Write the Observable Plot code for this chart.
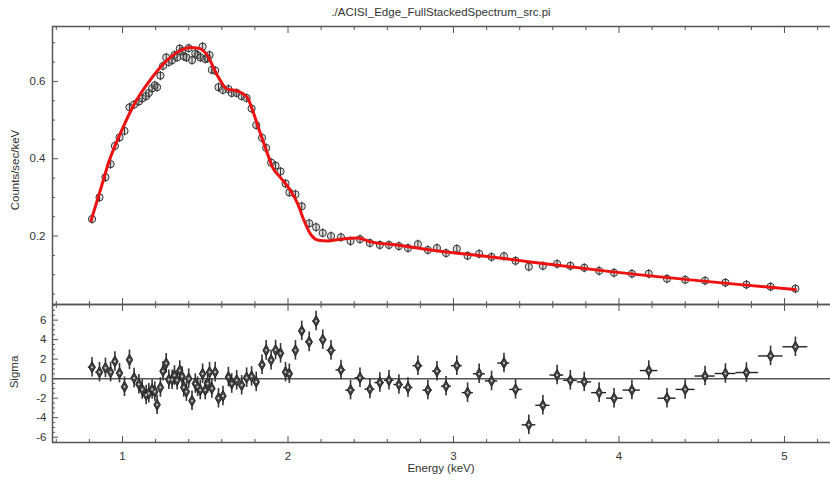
<!DOCTYPE html>
<html><head><meta charset="utf-8">
<script src="https://cdn.jsdelivr.net/npm/d3@7"></script>
<script src="https://cdn.jsdelivr.net/npm/@observablehq/plot@0.6"></script>
<style>
html,body{margin:0;padding:0;background:#fff;}
#wrap{position:relative;width:830px;height:480px;font-family:"Liberation Sans",Arial,sans-serif;color:#333;overflow:hidden;}
.lbl{position:absolute;font-size:11.5px;white-space:nowrap;color:#333;}
#wrap svg{position:absolute;left:0;background:transparent !important;}
</style>
</head><body>
<div id="wrap">
  <div class="lbl" id="title" style="left:441px;top:6px;transform:translateX(-50%);">./ACISI_Edge_FullStackedSpectrum_src.pi</div>
  <div class="lbl" style="left:15px;top:170px;transform:translate(-50%,-50%) rotate(-90deg);">Counts/sec/keV</div>
  <div class="lbl" style="left:14px;top:372px;transform:translate(-50%,-50%) rotate(-90deg);">Sigma</div>
  <div class="lbl" style="left:441px;top:468px;transform:translate(-50%,-50%);">Energy (keV)</div>
</div>
<script>
// ---- data ----
const energy = [
  0.816,0.861,0.897,0.928,0.954,0.982,1.012,1.042,1.070,1.099,
  1.119,1.143,1.159,1.179,1.195,1.209,1.229,1.245,1.264,1.280,
  1.300,1.314,1.330,1.346,1.360,1.370,1.386,1.400,1.420,1.440,
  1.454,1.470,1.484,1.500,1.514,1.526,1.540,1.560,1.580,1.607,
  1.640,1.660,1.690,1.720,1.750,1.780,1.808,1.843,1.868,1.898,
  1.925,1.955,1.985,2.008,2.045,2.083,2.128,2.170,2.210,2.260,
  2.320,2.378,2.435,2.495,2.555,2.610,2.670,2.725,2.785,2.845,
  2.900,2.955,3.020,3.085,3.155,3.230,3.305,3.375,3.455,3.540,
  3.626,3.706,3.790,3.880,3.970,4.078,4.180,4.290,4.400,4.520,
  4.643,4.770,4.916,5.066
];
const counts = [
  0.244,0.300,0.352,0.386,0.433,0.455,0.472,0.533,0.540,0.548,
  0.556,0.562,0.570,0.582,0.590,0.585,0.615,0.640,0.662,0.650,
  0.655,0.668,0.662,0.685,0.678,0.665,0.662,0.686,0.655,0.672,
  0.668,0.662,0.690,0.658,0.660,0.668,0.630,0.628,0.585,0.578,
  0.580,0.570,0.570,0.562,0.557,0.530,0.487,0.454,0.428,0.390,
  0.382,0.367,0.336,0.313,0.308,0.277,0.233,0.223,0.208,0.200,
  0.197,0.187,0.192,0.182,0.177,0.177,0.174,0.169,0.179,0.164,
  0.169,0.156,0.167,0.149,0.154,0.146,0.148,0.136,0.1205,0.123,
  0.128,0.123,0.118,0.110,0.105,0.1026,0.1026,0.0897,0.087,0.0846,
  0.0795,0.0744,0.069,0.064
];
const sigma = [
  1.17,0.67,1.10,0.67,1.77,0.57,-0.83,1.93,0.07,-0.57,
  -1.10,-1.67,-1.50,-1.10,-1.33,-2.67,-0.90,0.77,1.57,-0.10,
  -0.10,0.33,-0.17,0.83,0.23,-0.90,-1.33,0.00,-2.27,-0.50,
  -0.83,-1.17,0.50,-1.17,-0.50,0.67,-1.00,0.67,-2.00,-1.77,
  0.17,-0.50,-0.17,-0.67,0.10,0.23,-0.33,1.43,2.90,1.90,
  2.93,2.60,0.67,0.50,2.90,4.90,3.77,5.90,4.00,2.90,
  0.90,-1.17,0.10,-1.07,-0.40,-0.17,-0.60,-0.90,1.33,-1.17,
  0.77,-0.77,1.33,-1.43,0.50,-0.23,1.60,-1.10,-4.73,-2.73,
  0.37,-0.17,-0.33,-1.43,-2.00,-1.17,0.83,-2.00,-1.10,0.27,
  0.53,0.63,2.33,3.27
];
const modelE = [0.81,0.86,0.92,1.0,1.066,1.17,1.27,1.35,1.41,1.46,1.51,1.57,1.63,1.70,1.755,1.79,1.834,1.876,1.906,1.955,2.015,2.057,2.094,2.136,2.185,2.24,2.317,2.42,2.50,2.66,2.86,3.06,3.266,3.465,3.95,5.066];
const modelC = [0.24,0.31,0.395,0.478,0.537,0.605,0.655,0.68,0.688,0.686,0.669,0.618,0.581,0.574,0.558,0.52,0.464,0.413,0.378,0.351,0.318,0.285,0.243,0.205,0.189,0.187,0.192,0.195,0.185,0.177,0.164,0.154,0.144,0.133,0.108,0.0615];

const xMajor = [1,2,3,4,5];
const xMinor = [0.6,0.8,1.2,1.4,1.6,1.8,2.2,2.4,2.6,2.8,3.2,3.4,3.6,3.8,4.2,4.4,4.6,4.8,5.2];
const yTopMajor = [0.2,0.4,0.6];
const yTopMinor = [0.05,0.1,0.15,0.25,0.3,0.35,0.45,0.5,0.55,0.65,0.7];
const yBotMajor = [-6,-4,-2,0,2,4,6];
const yBotMinor = [-6.5,-5.5,-5,-4.5,-3.5,-3,-2.5,-1.5,-1,-0.5,0.5,1,1.5,2.5,3,3.5,4.5,5,5.5,6.5,7,7.5];

// ---- tables ----
const pts = energy.map((e,i) => {
  const lo = i > 0 ? (energy[i-1] + e) / 2 : e - (energy[i+1] - e) / 2;
  const hi = i < energy.length - 1 ? (energy[i+1] + e) / 2 : e + (e - energy[i-1]) / 2;
  return {e, c: counts[i], s: sigma[i], lo, hi};
});
const model = modelE.map((e,i) => ({e, c: modelC[i]}));

const xDom = [0.577, 5.278];
const yTopDom = [0.023, 0.742];
const yBotDom = [-6.54, 7.6];
const AX = "#555";
const blank = () => "";

const circleBar = {
  draw(ctx, size) {
    const r = Math.sqrt(size / Math.PI);
    ctx.moveTo(r, 0);
    ctx.arc(0, 0, r, 0, 2 * Math.PI);
    ctx.moveTo(0, -r - 1);
    ctx.lineTo(0, r + 1);
  }
};

function xTicks(anchor, vals, len) {
  return Plot.axisX(vals, {anchor, label: null, tickSize: len, tickFormat: blank, stroke: AX,
    dy: anchor === "top" ? len : -len, strokeWidth: 1});
}
function yTicks(vals, len) {
  return Plot.axisY(vals, {anchor: "left", label: null, tickSize: len, tickFormat: blank, stroke: AX, dx: len, strokeWidth: 1});
}

const plotTop = Plot.plot({
  width: 830, height: 310,
  marginTop: 26, marginBottom: 6, marginLeft: 52, marginRight: 0,
  style: {background: "transparent", fontFamily: "Liberation Sans, Arial, sans-serif", fontSize: "11.5px", color: "#333"},
  x: {domain: xDom, label: null},
  y: {domain: yTopDom, label: null},
  marks: [
    xTicks("top", xMajor, 6), xTicks("top", xMinor, 3),
    xTicks("bottom", xMajor, 6), xTicks("bottom", xMinor, 3),
    yTicks(yTopMajor, 6), yTicks(yTopMinor, 3),
    Plot.axisY(yTopMajor, {anchor: "left", label: null, tickSize: 0, tickPadding: 7, tickFormat: d => d.toFixed(1), fill: "#333", fontSize: 11.5}),
    Plot.ruleY([yTopDom[0], yTopDom[1]], {stroke: AX, strokeWidth: 1.5}),
    Plot.ruleX([xDom[0]], {stroke: AX, strokeWidth: 1.5}),
    Plot.dot(pts, {x: "e", y: "c", symbol: circleBar, r: 3.6, stroke: "#333", strokeWidth: 1, fill: "#9a9a9a", fillOpacity: 0.35}),
    Plot.line(model, {x: "e", y: "c", stroke: "#ee1111", strokeWidth: 3, curve: "monotone-x"})
  ]
});
plotTop.style.top = "0px";

const plotBot = Plot.plot({
  width: 830, height: 182,
  marginTop: 6, marginBottom: 38, marginLeft: 52, marginRight: 0,
  style: {background: "transparent", fontFamily: "Liberation Sans, Arial, sans-serif", fontSize: "11.5px", color: "#333"},
  x: {domain: xDom, label: null},
  y: {domain: yBotDom, label: null},
  marks: [
    xTicks("top", xMajor, 6), xTicks("top", xMinor, 3),
    xTicks("bottom", xMajor, 6), xTicks("bottom", xMinor, 3),
    Plot.axisX(xMajor, {anchor: "bottom", label: null, tickSize: 0, tickPadding: 9, tickFormat: d => String(d), fill: "#333", fontSize: 11.5}),
    yTicks(yBotMajor, 6), yTicks(yBotMinor, 3),
    Plot.axisY(yBotMajor, {anchor: "left", label: null, tickSize: 0, tickPadding: 6, tickFormat: d => String(d), fill: "#333", fontSize: 11.5}),
    Plot.ruleY([yBotDom[0], yBotDom[1]], {stroke: AX, strokeWidth: 1.5}),
    Plot.ruleX([xDom[0]], {stroke: AX, strokeWidth: 1.5}),
    Plot.ruleY([0], {stroke: "#555", strokeWidth: 1.5}),
    Plot.ruleX(pts, {x: "e", y1: d => d.s - 1, y2: d => d.s + 1, stroke: "#333", strokeWidth: 1.6}),
    Plot.ruleY(pts, {y: "s", x1: "lo", x2: "hi", stroke: "#222", strokeWidth: 1.4}),
    Plot.dot(pts, {x: "e", y: "s", symbol: "diamond", r: 3.4, fill: "#444", stroke: "#222", strokeWidth: 1}),
    Plot.dot(pts, {x: "e", y: "s", r: 1.1, fill: "#ccc"})
  ]
});
plotBot.style.top = "298px";

const wrap = document.getElementById("wrap");
wrap.appendChild(plotTop);
wrap.appendChild(plotBot);
</script>
</body></html>
